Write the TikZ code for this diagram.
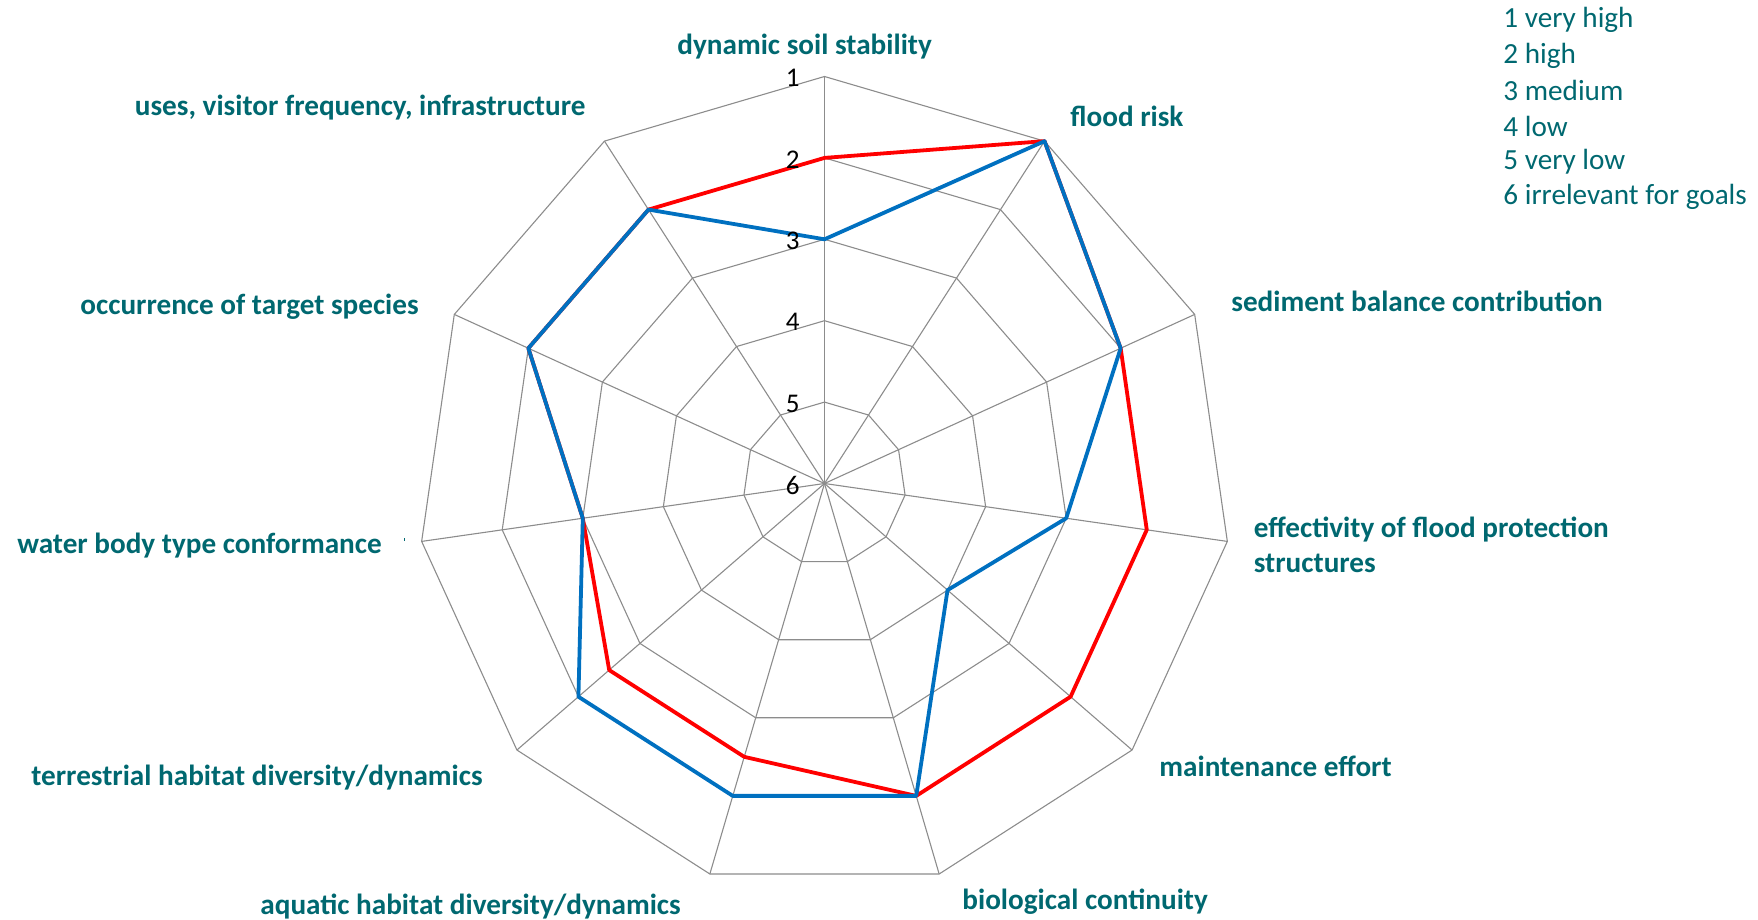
\documentclass[tikz,border=0pt]{standalone}
\usepackage{fontspec}
\setmainfont{Carlito}
\definecolor{teal}{RGB}{0,104,112}
\definecolor{gridgray}{RGB}{140,140,140}
\definecolor{redline}{RGB}{255,0,0}
\definecolor{blueline}{RGB}{0,112,192}
\begin{document}
\begin{tikzpicture}[x=0.5pt,y=-0.5pt,
  cat/.style={font=\fontsize{14.6}{17.7}\selectfont\bfseries, text=teal, inner sep=0pt, align=left},
  leg/.style={font=\fontsize{14.6}{17.7}\selectfont, text=teal, inner sep=0pt, anchor=west},
  lvl/.style={font=\fontsize{13.5}{16}\selectfont, text=black, inner sep=0pt, anchor=east},
  gridline/.style={draw=gridgray, line width=0.55pt},
  serA/.style={draw=redline, line width=1.9pt, line join=round},
  serB/.style={draw=blueline, line width=1.9pt, line join=round}]
\useasboundingbox (0,0) rectangle (1758,920);
\def\cx{824.5}\def\cy{483.5}\def\R{407}
\coordinate (c) at (\cx,\cy);
% grid
\foreach \v in {1,2,3,4,5}{
  \foreach \k in {0,...,10}{
    \coordinate (g\v-\k) at ({\cx+\R*(6-\v)/5*sin(\k*360/11)},{\cy-\R*(6-\v)/5*cos(\k*360/11)});
  }
  \draw[gridline] (g\v-0) -- (g\v-1) -- (g\v-2) -- (g\v-3) -- (g\v-4) -- (g\v-5) -- (g\v-6) -- (g\v-7) -- (g\v-8) -- (g\v-9) -- (g\v-10) -- cycle;
}
\foreach \k in {0,...,10}{
  \coordinate (o\k) at ({\cx+\R*sin(\k*360/11)},{\cy-\R*cos(\k*360/11)});
  \draw[gridline] (c) -- (o\k);
}
% series
\def\pt#1#2#3{\coordinate (#1) at ({\cx+\R*(6-#3)/5*sin(#2*360/11)},{\cy-\R*(6-#3)/5*cos(#2*360/11)});}
\pt{a0}{0}{2}\pt{a1}{1}{1}\pt{a2}{2}{2}\pt{a3}{3}{2}\pt{a4}{4}{2}\pt{a5}{5}{2}
\pt{a6}{6}{2.5}\pt{a7}{7}{2.5}\pt{a8}{8}{3}\pt{a9}{9}{2}\pt{a10}{10}{2}
\pt{b0}{0}{3}\pt{b1}{1}{1}\pt{b2}{2}{2}\pt{b3}{3}{3}\pt{b4}{4}{4}\pt{b5}{5}{2}
\pt{b6}{6}{2}\pt{b7}{7}{2}\pt{b8}{8}{3}\pt{b9}{9}{2}\pt{b10}{10}{2}
\draw[serA] (a0)--(a1)--(a2)--(a3)--(a4)--(a5)--(a6)--(a7)--(a8)--(a9)--(a10)--cycle;
\draw[serB] (b0)--(b1)--(b2)--(b3)--(b4)--(b5)--(b6)--(b7)--(b8)--(b9)--(b10)--cycle;
% level labels
\node[lvl] (l1) at (800,78) {1};
\node[lvl] (l2) at (800,159.5) {2};
\node[lvl] (l3) at (800,241) {3};
\node[lvl] (l4) at (800,322) {4};
\node[lvl] (l5) at (800,403.5) {5};
\node[lvl] (l6) at (800,485) {6};
% category labels
\node[cat,anchor=west] (t0) at (677,46.5) {dynamic soil stability};
\node[cat,anchor=west] (t1) at (1070,116) {flood risk};
\node[cat,anchor=west] (t2) at (1231,301) {sediment balance contribution};
\node[cat,anchor=west] (t3) at (1253.5,545) {effectivity of flood protection\\structures};
\node[cat,anchor=west] (t4) at (1159,766) {maintenance effort};
\node[cat,anchor=west] (t5) at (962,902) {biological continuity};
\node[cat,anchor=west] (t6) at (260,907) {aquatic habitat diversity/dynamics};
\node[cat,anchor=west] (t7) at (31,778) {terrestrial habitat diversity/dynamics};
\node[cat,anchor=west] (t8) at (17,546) {water body type conformance};
\node[cat,anchor=west] (t9) at (80,307) {occurrence of target species};
\node[cat,anchor=west] (t10) at (134.5,108) {uses, visitor frequency, infrastructure};
\fill[teal] (404.3,537.5) rectangle (405.3,541);
% legend
\node[leg] (g1) at (1503,20) {1 very high};
\node[leg] (g2) at (1503,55.4) {2 high};
\node[leg] (g3) at (1503,90.8) {3 medium};
\node[leg] (g4) at (1503,126.2) {4 low};
\node[leg] (g5) at (1503,161.6) {5 very low};
\node[leg] (g6) at (1503,197) {6 irrelevant for goals};
\end{tikzpicture}
\end{document}
